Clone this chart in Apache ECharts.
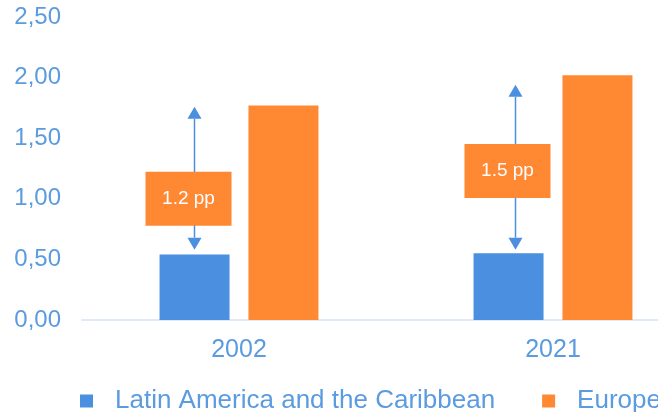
<!DOCTYPE html>
<html><head><meta charset="utf-8">
<script src="https://cdn.jsdelivr.net/npm/echarts@6/dist/echarts.min.js"></script>
<style>html,body{margin:0;padding:0;background:#fff}#c{width:658px;height:412px}</style>
</head><body><div id="c"></div>
<script>
var categories = ['2002', '2021'];
var latamValues = [0.54, 0.55];
var europeValues = [1.77, 2.02];
var yTicks = [0, 0.5, 1, 1.5, 2, 2.5];
var gapLabels = ['1.2 pp', '1.5 pp'];
var arrowLow = [0.58, 0.58];
var arrowHigh = [1.76, 1.94];
var boxMid = [1.00, 1.23];

// layout-only pixel nudges for the annotations
var ARROW_SHIFT = [0, 7];
var BOX_SHIFT = [-6, -1];

var BLUE = '#4A8FE0', ORANGE = '#FF8833', TXT = '#5B9BE0';
var FONT = 'Liberation Sans, Arial';
var chart = echarts.init(document.getElementById('c'));
var annData = categories.map(function (c, i) { return [i, arrowLow[i], arrowHigh[i], boxMid[i], gapLabels[i]]; });
chart.setOption({
  animation: false,
  grid: { left: 82, top: 17, width: 628, height: 303, outerBoundsMode: 'none', containLabel: false },
  legend: {
    left: 75, top: 383, width: 1000, icon: 'rect', itemWidth: 13, itemHeight: 13, itemGap: 47,
    textStyle: { color: TXT, fontSize: 26, fontFamily: FONT, padding: [0, 0, 0, 17] },
    data: ['Latin America and the Caribbean', 'Europe']
  },
  xAxis: {
    type: 'category', data: categories,
    axisLine: { lineStyle: { color: '#D6E3F5', width: 1.5 } }, axisTick: { show: false },
    axisLabel: { color: TXT, fontSize: 25, fontFamily: FONT, margin: 18 }
  },
  yAxis: {
    type: 'value', min: yTicks[0], max: yTicks[yTicks.length - 1], interval: 0.5,
    splitLine: { show: false }, axisLine: { show: false }, axisTick: { show: false },
    axisLabel: { color: TXT, fontSize: 24, fontFamily: FONT, margin: 21,
      formatter: function (v) { return v.toFixed(2).replace('.', ','); } }
  },
  series: [
    { name: 'Latin America and the Caribbean', type: 'bar', data: latamValues, barWidth: 70, barGap: '27%', itemStyle: { color: BLUE } },
    { name: 'Europe', type: 'bar', data: europeValues, barWidth: 70, itemStyle: { color: ORANGE } },
    {
      type: 'custom', data: annData, z: 10, silent: true,
      renderItem: function (params, api) {
        var i = api.value(0);
        var band = api.size([1, 0])[0];
        var c = api.coord([i, 0]);
        var bc = c[0] - band * 44.5 / 314;
        var ax = bc + ARROW_SHIFT[i];
        var yl = api.coord([i, api.value(1)])[1];
        var yh = api.coord([i, api.value(2)])[1];
        var ym = api.coord([i, api.value(3)])[1];
        var bx = bc + BOX_SHIFT[i];
        var ah = 12, aw = 7;
        return { type: 'group', children: [
          { type: 'line', shape: { x1: ax, y1: yh + ah, x2: ax, y2: yl - ah }, style: { stroke: BLUE, lineWidth: 1.5 } },
          { type: 'polygon', shape: { points: [[ax, yh], [ax - aw, yh + ah], [ax + aw, yh + ah]] }, style: { fill: BLUE } },
          { type: 'polygon', shape: { points: [[ax, yl], [ax - aw, yl - ah], [ax + aw, yl - ah]] }, style: { fill: BLUE } },
          { type: 'rect', shape: { x: bx - 43, y: ym - 27, width: 86, height: 54 }, style: { fill: ORANGE } },
          { type: 'text', x: bx, y: ym, style: { text: api.value(4), fill: '#fff', fontSize: 19, fontFamily: FONT, align: 'center', verticalAlign: 'middle' } }
        ] };
      }
    }
  ]
});
</script></body></html>
